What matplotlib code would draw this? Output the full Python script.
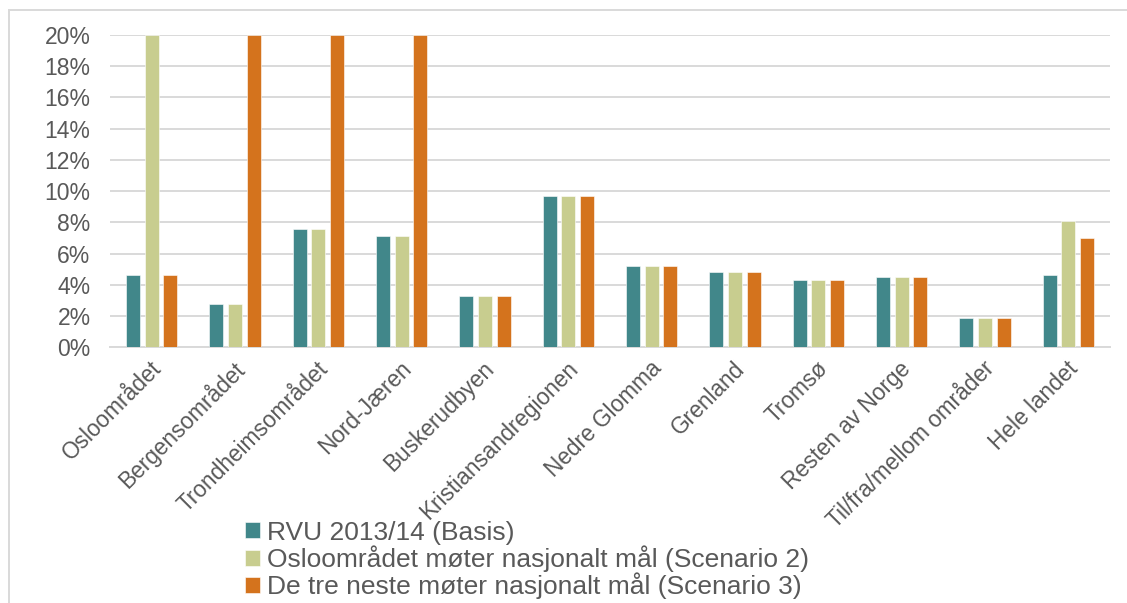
import numpy as np
import matplotlib
matplotlib.use("Agg")
import matplotlib.pyplot as plt
from matplotlib.patches import Rectangle
from matplotlib.ticker import PercentFormatter
from matplotlib.transforms import ScaledTranslation

# data (share of trips, %)
regions = ['Osloområdet', 'Bergensområdet', 'Trondheimsområdet', 'Nord-Jæren',
           'Buskerudbyen', 'Kristiansandregionen', 'Nedre Glomma', 'Grenland',
           'Tromsø', 'Resten av Norge', 'Til/fra/mellom områder', 'Hele landet']
basis = [4.6, 2.8, 7.6, 7.1, 3.3, 9.7, 5.2, 4.8, 4.3, 4.5, 1.9, 4.6]
scenario2 = [20.0, 2.8, 7.6, 7.1, 3.3, 9.7, 5.2, 4.8, 4.3, 4.5, 1.9, 8.1]
scenario3 = [4.6, 20.0, 20.0, 20.0, 3.3, 9.7, 5.2, 4.8, 4.3, 4.5, 1.9, 7.0]
series_names = ['RVU 2013/14 (Basis)',
                'Osloområdet møter nasjonalt mål (Scenario 2)',
                'De tre neste møter nasjonalt mål (Scenario 3)']
colors = ['#41878A', '#C8CD8F', '#D4731D']

plt.rcParams['font.family'] = ['Liberation Sans', 'DejaVu Sans']
txt_color = '#595959'
grid_color = '#D9D9D9'

fig = plt.figure(figsize=(11.27, 6.03), dpi=100)
ax = fig.add_axes([0.0976, 0.424, 0.8873, 0.518])

x = np.arange(len(regions))
width = 0.168
step = 0.224
for i, (vals, name, c) in enumerate(zip([basis, scenario2, scenario3], series_names, colors)):
    ax.bar(x + (i - 1) * step, vals, width, color=c, label=name,
           edgecolor='white', linewidth=0.4, zorder=3)

ax.set_xlim(-0.5, len(regions) - 0.5)
ax.set_ylim(0, 20)
ax.set_yticks(np.arange(0, 21, 2))
ax.yaxis.set_major_formatter(PercentFormatter(decimals=0))
ax.grid(axis='y', color=grid_color, linewidth=1.4, zorder=0)
for s in ['top', 'right', 'left']:
    ax.spines[s].set_visible(False)
ax.spines['bottom'].set_color(grid_color)
ax.spines['bottom'].set_linewidth(1.4)

ax.tick_params(axis='y', length=0, pad=14, labelsize=16.5, labelcolor=txt_color)
ax.tick_params(axis='x', length=0, pad=15, labelsize=16.3, labelcolor=txt_color)
ax.set_xticks(x)
ax.set_xticklabels(regions, rotation=45, ha='right', va='center',
                   rotation_mode='anchor')
shift = ScaledTranslation(6 / 100, 3 / 100, fig.dpi_scale_trans)
for lab in ax.get_xticklabels():
    lab.set_transform(lab.get_transform() + shift)

# outer chart frame (cropped on right and bottom)
fig.patches.append(Rectangle((8.5 / 1127, -0.2), 1.2, (593 / 603) + 0.2,
                             transform=fig.transFigure, fill=False,
                             edgecolor=grid_color, linewidth=1.4))

fig.legend(loc='center left', bbox_to_anchor=(245 / 1127, 43 / 603),
           frameon=False, fontsize=19, labelcolor=txt_color,
           handlelength=0.55, handleheight=0.55, handletextpad=0.3,
           borderpad=0, borderaxespad=0, labelspacing=0.03)

fig.savefig('out.png', dpi=100)
